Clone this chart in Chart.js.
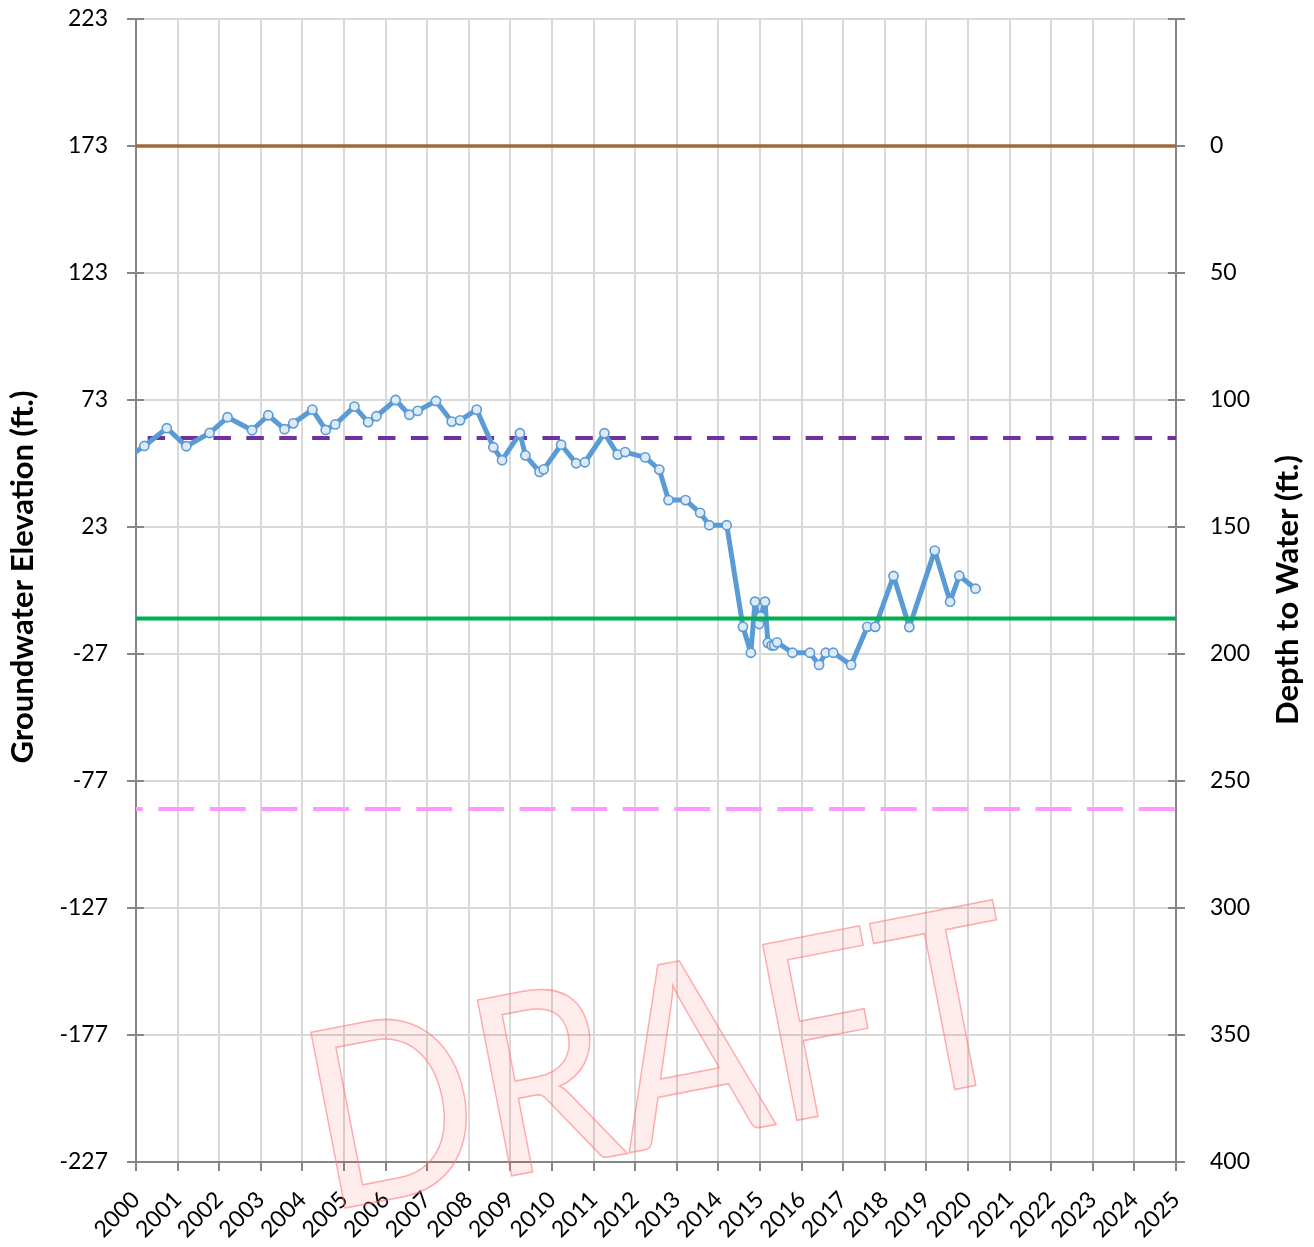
<!DOCTYPE html>
<html>
<head>
<meta charset="utf-8">
<script src="https://cdn.jsdelivr.net/npm/chart.js@4.4.1/dist/chart.umd.min.js"></script>
<style>
  html, body { margin: 0; padding: 0; background: #ffffff; }
  #wrap { position: relative; width: 1314px; height: 1247px; }
</style>
</head>
<body>
<div id="wrap"><canvas id="c" width="1314" height="1247"></canvas></div>
<script>
// ---------------- data ----------------
const sampleDates = [
  1999.78, 2000.20, 2000.74, 2001.21, 2001.77, 2002.20, 2002.79, 2003.18, 2003.57, 2003.78,
  2004.24, 2004.56, 2004.79, 2005.25, 2005.58, 2005.78, 2006.24, 2006.57, 2006.77, 2007.21,
  2007.59, 2007.79, 2008.19, 2008.59, 2008.80, 2009.23, 2009.36, 2009.70, 2009.80, 2010.22,
  2010.58, 2010.79, 2011.26, 2011.58, 2011.76, 2012.24, 2012.58, 2012.80, 2013.21, 2013.56,
  2013.78, 2014.20, 2014.59, 2014.78, 2014.88, 2014.98, 2015.02, 2015.12, 2015.19, 2015.28,
  2015.34, 2015.41, 2015.78, 2016.20, 2016.42, 2016.58, 2016.76, 2017.19, 2017.58, 2017.77,
  2018.21, 2018.59, 2019.20, 2019.57, 2019.79, 2020.18
];
const gwElevation = [
  50.2, 54.9, 61.9, 54.8, 60.0, 66.2, 61.1, 67.0, 61.5, 63.8,
  69.2, 61.2, 63.4, 70.4, 64.3, 66.6, 73.0, 67.2, 68.7, 72.6,
  64.5, 65.0, 69.2, 54.4, 49.3, 59.9, 51.2, 44.7, 45.7, 55.4,
  48.1, 48.5, 59.9, 51.5, 52.5, 50.4, 45.6, 33.6, 33.6, 28.6,
  23.7, 23.7, -16.3, -26.5, -6.4, -15.2, -12.3, -6.4, -22.6, -23.6,
  -23.6, -22.4, -26.5, -26.5, -31.3, -26.5, -26.5, -31.3, -16.3, -16.3,
  3.7, -16.4, 13.7, -6.4, 3.8, -1.3
];
const yearTicks = [2000, 2001, 2002, 2003, 2004, 2005, 2006, 2007, 2008, 2009, 2010, 2011, 2012,
  2013, 2014, 2015, 2016, 2017, 2018, 2019, 2020, 2021, 2022, 2023, 2024, 2025];
const elevationTicks = [223, 173, 123, 73, 23, -27, -77, -127, -177, -227];
const depthTicks = [0, 50, 100, 150, 200, 250, 300, 350, 400];

const groundSurfaceElevation = 173;   // brown solid
const measurableObjective = 58;       // purple dashed
const measurableObjectiveStart = 2000.28;
const minimumThreshold = -13;         // green solid
const lowerReference = -88;           // pink dashed

const leftTitle = 'Groundwater Elevation (ft.)';
const rightTitle = 'Depth to Water (ft.)';
const watermarkText = 'DRAFT';

// ---------------- chart ----------------
const FONT = 'Lato';
const AXIS_GREY = '#868686';
const xMin = yearTicks[0], xMax = yearTicks[yearTicks.length - 1];
const yMin = elevationTicks[elevationTicks.length - 1], yMax = elevationTicks[0];

const gwPoints = sampleDates.map((d, i) => ({ x: d, y: gwElevation[i] }));
const hLine = (v, from) => [{ x: from, y: v }, { x: xMax, y: v }];

// y tick marks that cross into the plot area (Excel "cross" style)
const crossTicks = {
  id: 'crossTicks',
  beforeDatasetsDraw(chart) {
    const { ctx, chartArea, scales } = chart;
    ctx.save();
    ctx.strokeStyle = AXIS_GREY;
    ctx.lineWidth = 2;
    ctx.beginPath();
    elevationTicks.forEach(v => {
      const py = scales.y.getPixelForValue(v);
      ctx.moveTo(chartArea.left, py); ctx.lineTo(chartArea.left + 8, py);
      ctx.moveTo(chartArea.right - 8, py); ctx.lineTo(chartArea.right, py);
    });
    ctx.stroke();
    ctx.restore();
  }
};

const overlay = {
  id: 'overlay',
  afterDraw(chart) {
    const ctx = chart.ctx;
    // axis titles
    ctx.save();
    ctx.font = 'bold 25px ' + FONT;
    const w25 = ctx.measureText(leftTitle).width;
    const size = 25 * 373 / w25;
    ctx.font = 'bold ' + size.toFixed(2) + 'px ' + FONT;
    ctx.fillStyle = '#000';
    ctx.textAlign = 'center';
    ctx.textBaseline = 'middle';
    ctx.save();
    ctx.translate(23, 577);
    ctx.rotate(-Math.PI / 2);
    ctx.fillText(leftTitle, 0, 0);
    ctx.restore();
    ctx.save();
    ctx.translate(1288, 590);
    ctx.rotate(-Math.PI / 2);
    ctx.fillText(rightTitle, 0, 0);
    ctx.restore();
    ctx.restore();

    // watermark
    ctx.save();
    ctx.translate(325, 1212);
    ctx.rotate(-11 * Math.PI / 180);
    ctx.font = '250px ' + FONT;
    const ww = ctx.measureText(watermarkText).width;
    ctx.scale(718 / ww, 1);
    ctx.textAlign = 'left';
    ctx.textBaseline = 'alphabetic';
    ctx.fillStyle = 'rgba(255,0,0,0.075)';
    ctx.fillText(watermarkText, 0, 0);
    ctx.strokeStyle = 'rgba(255,120,120,0.6)';
    ctx.lineWidth = 1.6;
    ctx.strokeText(watermarkText, 0, 0);
    ctx.restore();
  }
};

const noVPad = s => { s.paddingTop = 0; s.paddingBottom = 0; };

new Chart(document.getElementById('c'), {
  type: 'line',
  data: {
    datasets: [
      { label: 'Minimum Threshold', data: hLine(minimumThreshold, xMin),
        borderColor: '#00B050', borderWidth: 4, pointRadius: 0 },
      { label: 'Groundwater Elevation', data: gwPoints,
        borderColor: '#5B9BD5', borderWidth: 5, borderJoinStyle: 'round',
        pointRadius: 4.6, pointBorderWidth: 1.6,
        pointBackgroundColor: '#DEEBF7', pointBorderColor: '#5B9BD5' },
      { label: 'Measurable Objective', data: hLine(measurableObjective, measurableObjectiveStart),
        borderColor: '#7030A0', borderWidth: 4, borderDash: [17.5, 15.4], pointRadius: 0 },
      { label: 'Reference', data: hLine(lowerReference, xMin),
        borderColor: '#FF99FF', borderWidth: 4, borderDash: [36, 15.6], borderDashOffset: 29.3, pointRadius: 0 },
      { label: 'Ground Surface', data: hLine(groundSurfaceElevation, xMin),
        borderColor: '#A0693A', borderWidth: 3.5, pointRadius: 0 }
    ]
  },
  options: {
    responsive: false,
    animation: false,
    devicePixelRatio: 1,
    clip: 0,
    layout: { padding: { top: 19, left: 0, right: 0, bottom: 0 } },
    plugins: { legend: { display: false }, tooltip: { enabled: false }, title: { display: false } },
    elements: { line: { tension: 0, fill: false } },
    scales: {
      x: {
        type: 'linear', min: xMin, max: xMax,
        afterBuildTicks: s => { s.ticks = yearTicks.map(v => ({ value: v })); },
        afterFit: s => { s.height = 85; s.paddingLeft = 0; s.paddingRight = 0; },
        ticks: { font: { family: FONT, size: 23 }, color: '#000', maxRotation: 45, minRotation: 45, autoSkip: false,
                 padding: 15, callback: v => String(v) },
        grid: { color: '#D9D9D9', lineWidth: 2, tickLength: 9, tickColor: AXIS_GREY, tickWidth: 2 },
        border: { color: AXIS_GREY, width: 2 }
      },
      y: {
        type: 'linear', position: 'left', min: yMin, max: yMax,
        afterBuildTicks: s => { s.ticks = elevationTicks.map(v => ({ value: v })); },
        afterFit: s => { s.width = 136; noVPad(s); },
        ticks: { font: { family: FONT, size: 23 }, color: '#000', padding: 19, callback: v => String(v) },
        grid: { color: '#D9D9D9', lineWidth: 2, tickLength: 9, tickColor: AXIS_GREY, tickWidth: 2 },
        border: { color: AXIS_GREY, width: 2 }
      },
      y2: {
        type: 'linear', position: 'right', reverse: true,
        min: groundSurfaceElevation - yMax, max: groundSurfaceElevation - yMin,
        afterBuildTicks: s => {
          s.ticks = [groundSurfaceElevation - yMax].concat(depthTicks).map(v => ({ value: v }));
        },
        afterFit: s => { s.width = 138; noVPad(s); },
        ticks: { font: { family: FONT, size: 23 }, color: '#000', padding: 25,
                 callback: v => (depthTicks.indexOf(v) >= 0 ? String(v) : '') },
        grid: { drawOnChartArea: false, color: AXIS_GREY, lineWidth: 2, tickLength: 9, tickColor: AXIS_GREY, tickWidth: 2 },
        border: { color: AXIS_GREY, width: 2 }
      }
    }
  },
  plugins: [crossTicks, overlay]
});
</script>
</body>
</html>
